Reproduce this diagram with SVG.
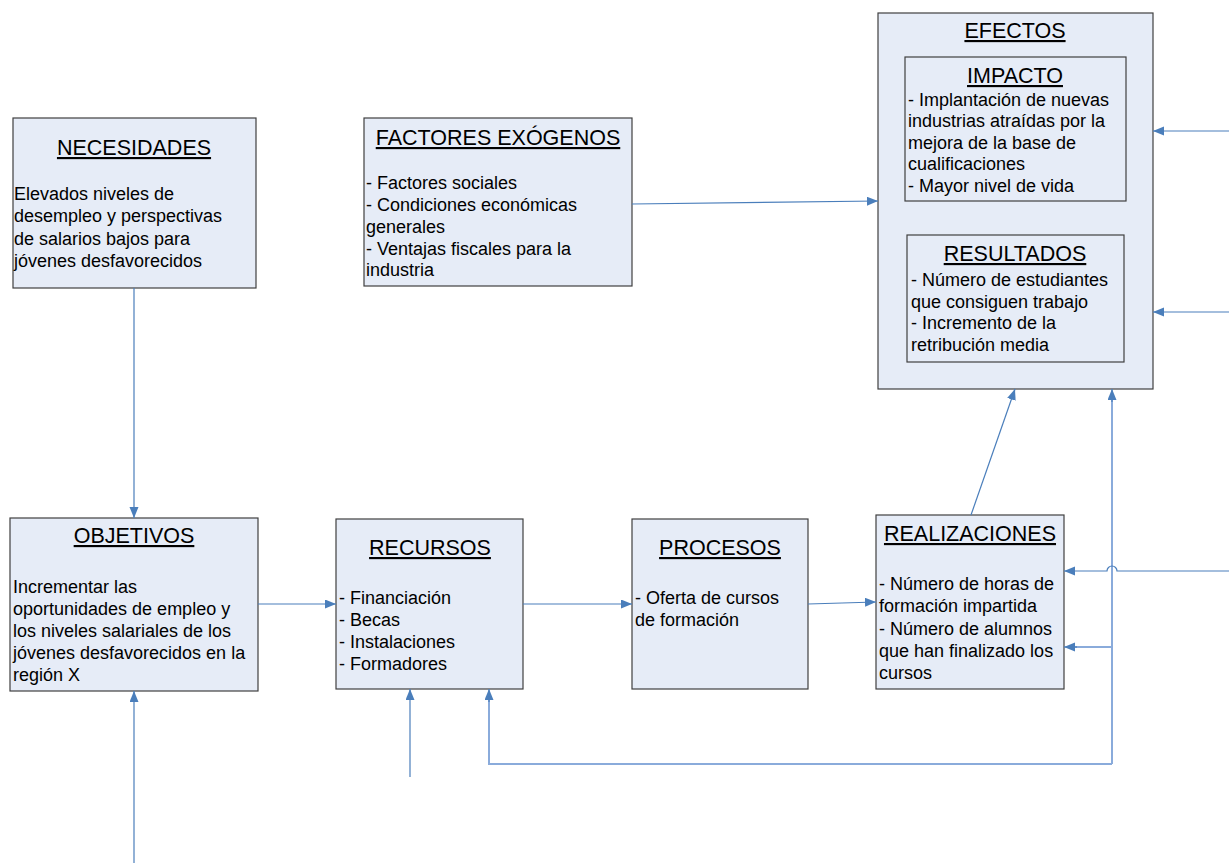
<svg xmlns="http://www.w3.org/2000/svg" width="1229" height="866" viewBox="0 0 1229 866">
<defs>
<marker id="ah" markerUnits="userSpaceOnUse" markerWidth="12" markerHeight="10" refX="11" refY="4.5" orient="auto">
<path d="M0,0 L11,4.5 L0,9 z" fill="#4a7ebb"/>
</marker>
<style>
.box{fill:#e6ecf7;stroke:#404040;stroke-width:1.2}
.t{font-family:"Liberation Sans",Arial,sans-serif;font-size:21.5px;fill:#000;text-anchor:middle;text-decoration:underline}
.b{font-family:"Liberation Sans",Arial,sans-serif;font-size:18px;fill:#000}
.c{fill:none;stroke:#4a7ebb;stroke-width:1.2}
.l{fill:none;stroke:#8aabdb;stroke-width:2}
</style>
</defs>
<rect width="1229" height="866" fill="#fff"/>
<g id="necesidades">
<rect class="box" x="13" y="118" width="243" height="170"/>
<text class="t" x="134" y="155">NECESIDADES</text>
<text class="b" x="14" y="200">Elevados niveles de</text>
<text class="b" x="14" y="222">desempleo y perspectivas</text>
<text class="b" x="14" y="245">de salarios bajos para</text>
<text class="b" x="14" y="267">jóvenes desfavorecidos</text>
</g>
<g id="factores">
<rect class="box" x="364" y="118" width="268" height="168"/>
<text class="t" x="498" y="145">FACTORES EXÓGENOS</text>
<text class="b" x="366" y="189">- Factores sociales</text>
<text class="b" x="366" y="211">- Condiciones económicas</text>
<text class="b" x="366" y="233">generales</text>
<text class="b" x="366" y="255">- Ventajas fiscales para la</text>
<text class="b" x="366" y="276">industria</text>
</g>
<g id="efectos">
<rect class="box" x="878" y="13" width="275" height="376"/>
<text class="t" x="1015" y="38">EFECTOS</text>
</g>
<g id="impacto">
<rect class="box" x="905" y="57" width="221" height="144"/>
<text class="t" x="1015" y="83">IMPACTO</text>
<text class="b" x="908" y="106">- Implantación de nuevas</text>
<text class="b" x="908" y="127">industrias atraídas por la</text>
<text class="b" x="908" y="149">mejora de la base de</text>
<text class="b" x="908" y="170">cualificaciones</text>
<text class="b" x="908" y="192">- Mayor nivel de vida</text>
</g>
<g id="resultados">
<rect class="box" x="907" y="235" width="217" height="127"/>
<text class="t" x="1015" y="261">RESULTADOS</text>
<text class="b" x="911" y="286">- Número de estudiantes</text>
<text class="b" x="911" y="308">que consiguen trabajo</text>
<text class="b" x="911" y="329">- Incremento de la</text>
<text class="b" x="911" y="351">retribución media</text>
</g>
<g id="objetivos">
<rect class="box" x="10" y="518" width="248" height="173"/>
<text class="t" x="134" y="543">OBJETIVOS</text>
<text class="b" x="13" y="593">Incrementar las</text>
<text class="b" x="13" y="615">oportunidades de empleo y</text>
<text class="b" x="13" y="637">los niveles salariales de los</text>
<text class="b" x="13" y="659">jóvenes desfavorecidos en la</text>
<text class="b" x="13" y="681">región X</text>
</g>
<g id="recursos">
<rect class="box" x="336" y="519" width="187" height="170"/>
<text class="t" x="430" y="555">RECURSOS</text>
<text class="b" x="339" y="604">- Financiación</text>
<text class="b" x="339" y="626">- Becas</text>
<text class="b" x="339" y="648">- Instalaciones</text>
<text class="b" x="339" y="670">- Formadores</text>
</g>
<g id="procesos">
<rect class="box" x="632" y="519" width="176" height="170"/>
<text class="t" x="720" y="555">PROCESOS</text>
<text class="b" x="635" y="604">- Oferta de cursos</text>
<text class="b" x="635" y="626">de formación</text>
</g>
<g id="realizaciones">
<rect class="box" x="876" y="515" width="188" height="174"/>
<text class="t" x="970" y="541">REALIZACIONES</text>
<text class="b" x="879" y="590">- Número de horas de</text>
<text class="b" x="879" y="612">formación impartida</text>
<text class="b" x="879" y="635">- Número de alumnos</text>
<text class="b" x="879" y="657">que han finalizado los</text>
<text class="b" x="879" y="679">cursos</text>
</g>
<g id="connectors">
<path class="c" d="M134,288 V518" marker-end="url(#ah)"/>
<path class="c" d="M134,863 V691" marker-end="url(#ah)"/>
<path class="c" d="M258,604 H336" marker-end="url(#ah)"/>
<path class="c" d="M523,604 H632" marker-end="url(#ah)"/>
<path class="c" d="M808,604 L876,602" marker-end="url(#ah)"/>
<path class="c" d="M632,204 L878,201" marker-end="url(#ah)"/>
<path class="c" d="M971,515 L1015,389" marker-end="url(#ah)"/>
<path class="c" d="M410,777 V689" marker-end="url(#ah)"/>
<path class="l" d="M1112,764 H489 V700"/>
<path class="c" d="M489,702 V689" marker-end="url(#ah)"/>
<path class="l" d="M1112,764 V400"/>
<path class="c" d="M1112,402 V389" marker-end="url(#ah)"/>
<path class="l" d="M1112,647 H1075"/>
<path class="c" d="M1077,647 H1064" marker-end="url(#ah)"/>
<path class="c" d="M1229,571 H1117 A5,5 0 0 0 1107,571 H1064" marker-end="url(#ah)"/>
<path class="c" d="M1229,131 H1153" marker-end="url(#ah)"/>
<path class="c" d="M1229,312 H1153" marker-end="url(#ah)"/>
</g>
</svg>
